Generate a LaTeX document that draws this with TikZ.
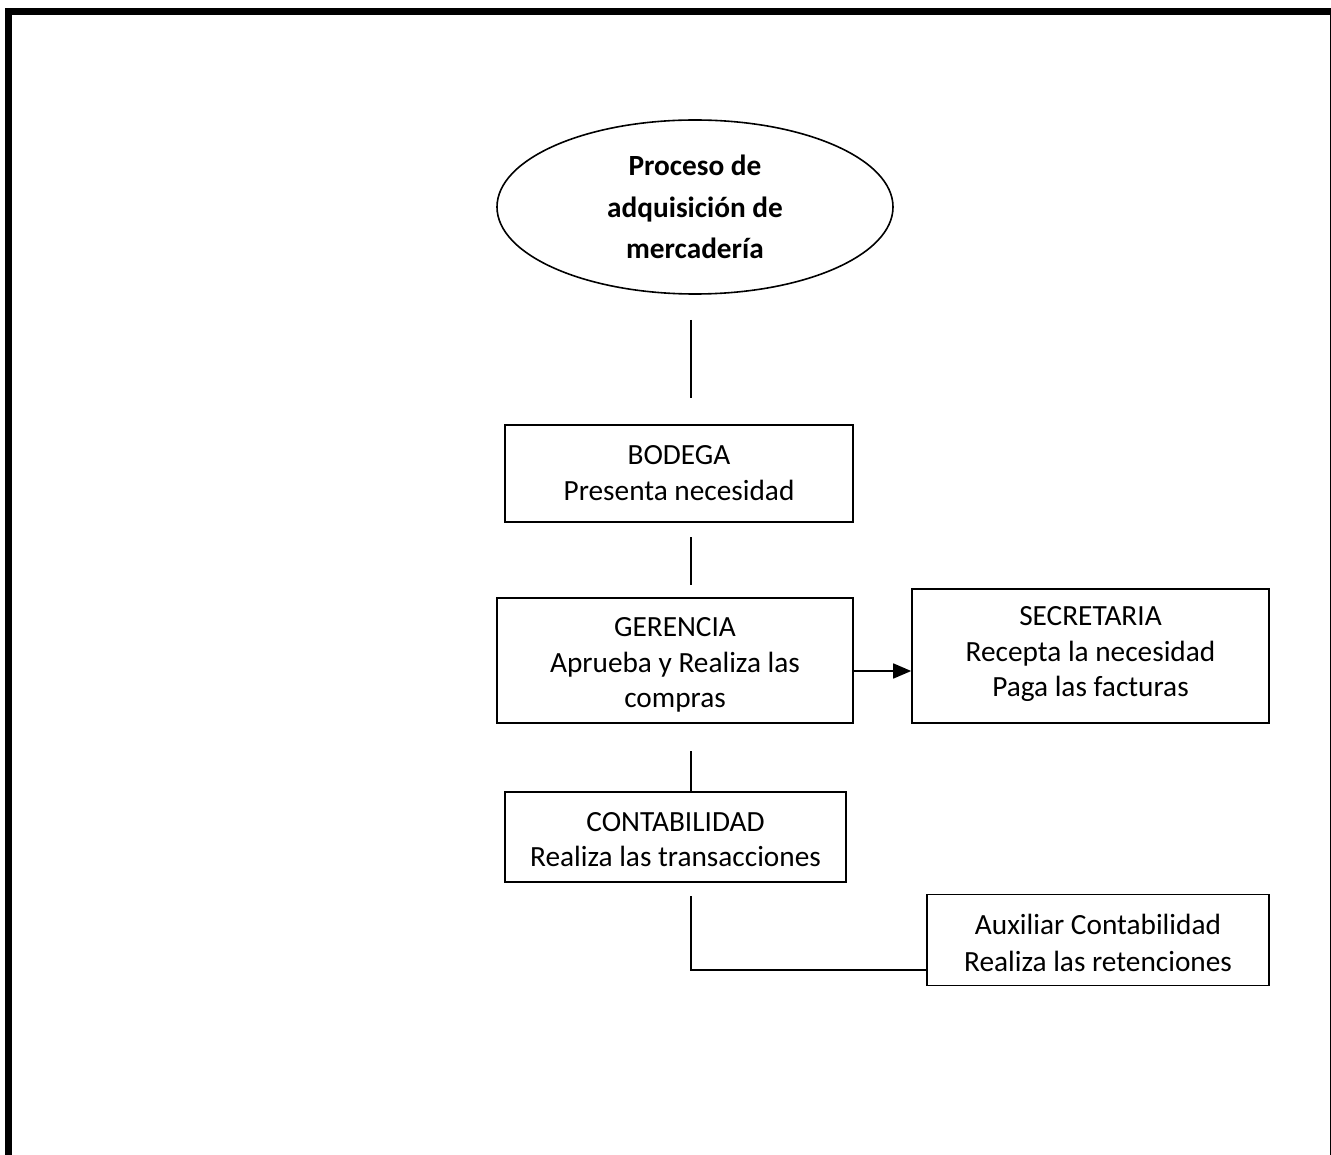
\documentclass[tikz,border=0pt]{standalone}
\usepackage{fontspec}
\setmainfont{Carlito}
\usetikzlibrary{shapes.geometric,arrows.meta}
\begin{document}
\begin{tikzpicture}[x=1pt,y=-1pt,
  box/.style={draw,line width=1.6pt,inner sep=0pt},
  txt/.style={inner sep=0pt,align=center,font=\fontsize{29.3}{35.5}\selectfont},
  conn/.style={line width=1.6pt}]
\useasboundingbox (0,0) rectangle (1331,1155);
\draw[line width=7pt] (8.5,1170) -- (8.5,11.5) -- (1333.5,11.5) -- (1333.5,1170);
% nodes
\node[draw,ellipse,line width=1.6pt,minimum width=396pt,minimum height=174pt,inner sep=0pt,
  align=center,font=\fontsize{29.3}{41.5}\selectfont\bfseries] (ell) at (695,207) {Proceso de\\adquisición de\\mercadería};
\node[box,minimum width=348pt,minimum height=97pt] (bod) at (679,473.5) {};
\node[txt] (bodt) at ([yshift=0.5]bod.center) {BODEGA\\Presenta necesidad};
\node[box,minimum width=356pt,minimum height=125pt] (ger) at (675,660.5) {};
\node[txt] (gert) at ([yshift=-4.5]ger.center) {GERENCIA\\Aprueba y Realiza las\\compras};
\node[box,minimum width=357pt,minimum height=134pt] (sec) at (1090.5,656) {};
\node[txt] (sect) at ([yshift=1.5]sec.center) {SECRETARIA\\Recepta la necesidad\\Paga las facturas};
\node[box,minimum width=341pt,minimum height=90pt] (con) at (675.5,837) {};
\node[txt] (cont) at ([yshift=-2.5]con.center) {CONTABILIDAD\\Realiza las transacciones};
\node[box,minimum width=342pt,minimum height=91pt] (aux) at (1098,940) {};
\node[txt,font=\fontsize{29.3}{37}\selectfont] (auxt) at ([yshift=-2.5]aux.center) {Auxiliar Contabilidad\\Realiza las retenciones};
% connector end points
\coordinate (a1) at (691,320);
\coordinate (a2) at (691,398);
\coordinate (b1) at (691,537);
\coordinate (b2) at (691,585);
\coordinate (c1) at (691,751);
\coordinate (d1) at (691,896);
% connectors
\draw[conn] (a1) -- (a2);
\draw[conn] (b1) -- (b2);
\draw[conn,-{Triangle[length=18pt,width=15pt]}] (ger.east |- 0,671) -- (sec.west |- 0,671);
\draw[conn] (c1) -- (con.north -| c1);
\draw[conn] (d1) -- (d1 |- 0,970) -- (aux.west |- 0,970);
\end{tikzpicture}
\end{document}
